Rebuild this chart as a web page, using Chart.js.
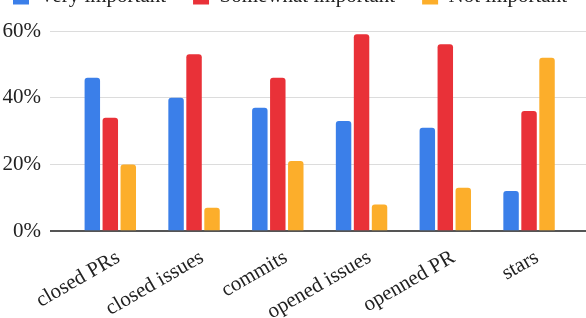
<!DOCTYPE html>
<html>
<head>
<meta charset="utf-8">
<script src="https://cdn.jsdelivr.net/npm/chart.js@4"></script>
<style>
  html, body { margin: 0; padding: 0; background: #fff; overflow: hidden; }
  #wrap { position: absolute; left: 0; top: -41px; width: 586px; height: 372px; }
</style>
</head>
<body>
<div id="wrap"><canvas id="chart" width="586" height="372"></canvas></div>
<script>
const categories = ['closed PRs', 'closed issues', 'commits', 'opened issues', 'openned PR', 'stars'];
const veryImportant = [46, 40, 37, 33, 31, 12];
const somewhatImportant = [34, 53, 46, 59, 56, 36];
const notImportant = [20, 7, 21, 8, 13, 52];
const yTicks = [0, 20, 40, 60];

const FONT = 'Liberation Serif, Times New Roman, serif';

function points(values) {
    return values.map((v, i) => ({ x: i, y: v }));
}

// one legend row with wide gaps, starting near the left edge, more room under it
const legendSpacing = {
    id: 'legendSpacing',
    beforeLayout(chart) {
        const legend = chart.legend;
        if (!legend || legend._patched) return;
        legend._patched = true;
        const fit = legend.fit;
        legend.fit = function () {
            const mw = this.maxWidth;
            this.maxWidth = mw + 60;
            fit.call(this);
            this.maxWidth = mw;
            this.width = mw;
            this.height += 14;
        };
        const draw = legend.draw;
        legend.draw = function () {
            this.left -= 16;
            this.right += 40;
            draw.call(this);
            this.left += 16;
            this.right -= 40;
        };
    }
};

const ctx = document.getElementById('chart').getContext('2d');

new Chart(ctx, {
    type: 'bar',
    data: {
        datasets: [
            { label: 'Very important', data: points(veryImportant), backgroundColor: '#3b7fe9' },
            { label: 'Somewhat important', data: points(somewhatImportant), backgroundColor: '#e93138' },
            { label: 'Not important', data: points(notImportant), backgroundColor: '#fcae2b' }
        ]
    },
    plugins: [legendSpacing],
    options: {
        responsive: false,
        animation: false,
        devicePixelRatio: 1,
        layout: { padding: { left: 2, right: 0, top: 0, bottom: 0 } },
        datasets: {
            bar: {
                categoryPercentage: 0.644,
                barPercentage: 0.86,
                borderRadius: 3
            }
        },
        plugins: {
            legend: {
                position: 'top',
                align: 'start',
                labels: {
                    boxWidth: 16,
                    boxHeight: 16,
                    padding: 27,
                    color: '#222',
                    font: { family: FONT, size: 21 }
                }
            },
            tooltip: { enabled: false }
        },
        scales: {
            x: {
                type: 'linear',
                offset: false,
                min: -0.72,
                max: 5.68,
                grid: { display: false },
                border: { display: false },
                afterBuildTicks: (axis) => {
                    axis.ticks = categories.map((_, i) => ({ value: i }));
                },
                afterFit: (axis) => {
                    axis.paddingLeft = 0;
                },
                ticks: {
                    autoSkip: false,
                    maxRotation: 30,
                    minRotation: 30,
                    padding: 6,
                    labelOffset: 8,
                    color: '#222',
                    font: { family: FONT, size: 21 },
                    callback: (value) => categories[value]
                }
            },
            y: {
                min: 0,
                max: 60,
                afterBuildTicks: (axis) => {
                    axis.ticks = yTicks.map((v) => ({ value: v }));
                },
                afterFit: (axis) => {
                    axis.width = 48;
                },
                border: { display: false },
                grid: {
                    drawTicks: false,
                    color: (c) => (c.tick && c.tick.value === 0 ? '#555' : '#dcdcdc'),
                    lineWidth: (c) => (c.tick && c.tick.value === 0 ? 2 : 1)
                },
                ticks: {
                    padding: 9,
                    color: '#222',
                    font: { family: FONT, size: 21 },
                    callback: (value) => value + '%'
                }
            }
        }
    }
});
</script>
</body>
</html>
